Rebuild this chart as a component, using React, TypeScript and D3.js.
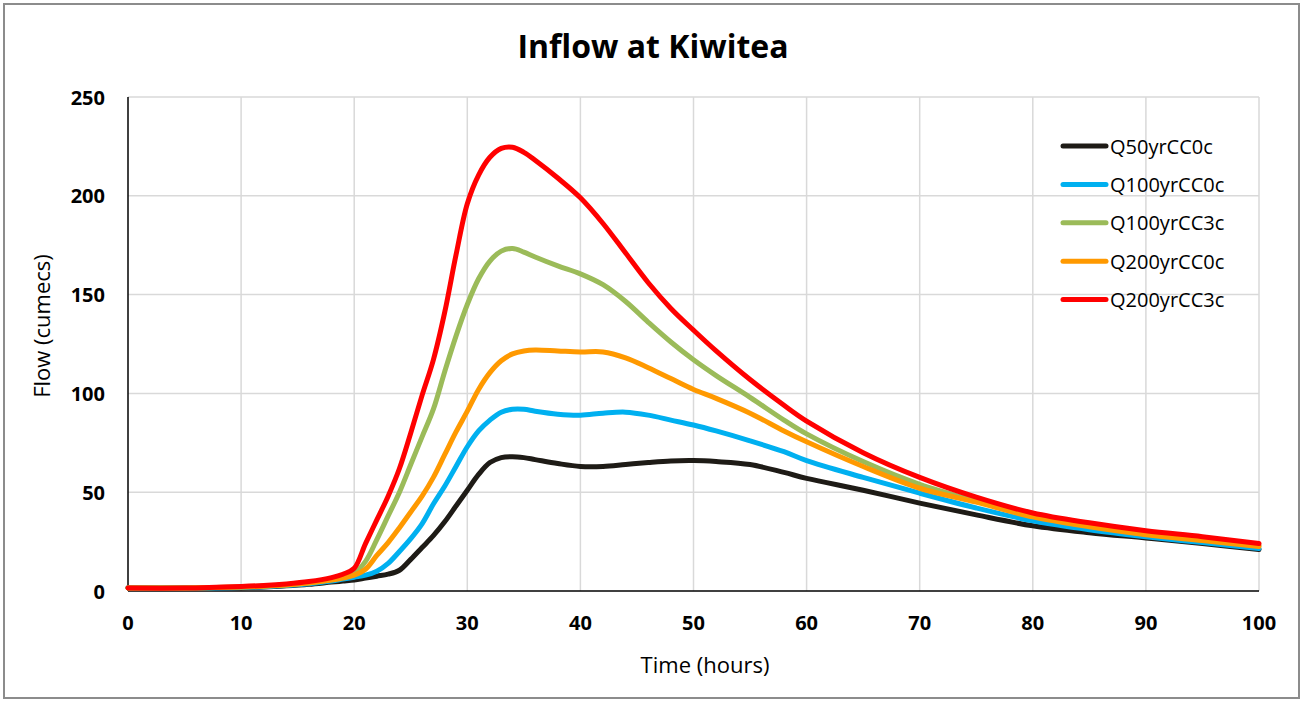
import React from "react";
import * as d3 from "d3";

// Hydrograph time points (hours)
const hours = [0, 5, 10, 12, 14, 16, 18, 19, 20, 21, 22, 23, 24, 25, 26, 27, 28, 29, 30, 31, 32, 33, 34, 35, 36, 38, 40, 42, 44, 46, 48, 50, 52, 55, 58, 60, 65, 70, 75, 80, 85, 90, 95, 100];

// Flow (cumecs) for each scenario at the times above
const q50yrCC0c = [1.5, 1.5, 1.7, 2, 2.6, 3.4, 4.5, 5, 5.5, 6.5, 7.5, 8.5, 10.5, 16, 22, 28, 35, 43, 51, 59, 65, 67.5, 68, 67.5, 66.5, 64.5, 63, 63, 64, 65, 65.8, 66, 65.5, 64, 60, 57, 51, 44.5, 38.5, 33, 29.5, 26.8, 24, 21];
const q100yrCC0c = [1.5, 1.5, 1.8, 2.2, 2.8, 3.7, 5, 6, 7, 8, 10, 14, 20, 26.5, 34, 44, 53, 63, 73, 81, 86.5, 90.5, 92, 92, 91, 89.5, 89, 90, 90.5, 89, 86.5, 84, 81, 76, 70.5, 66, 57.5, 49.5, 42, 35.5, 31, 27.5, 24.5, 21.5];
const q100yrCC3c = [1.5, 1.5, 2, 2.5, 3.2, 4.2, 5.8, 7, 9, 15, 26, 38, 50, 64, 78, 92, 111, 129, 145, 158, 167, 172, 173.3, 171.5, 169, 164.5, 160.5, 155, 146.5, 136, 126, 117, 109, 98, 86.5, 79.5, 65.5, 54, 45.5, 38, 33, 29.5, 26.5, 23];
const q200yrCC0c = [1.5, 1.5, 2, 2.4, 3, 4, 5.5, 6.5, 8, 11, 18, 24.5, 32, 40, 48, 57.5, 69, 80.5, 91, 102, 110.5, 116.5, 120, 121.5, 122, 121.5, 121, 121, 118, 113, 107.5, 102, 97.5, 90, 81, 75.5, 63, 52, 45, 37.5, 32.5, 28.5, 25.5, 22.5];
const q200yrCC3c = [1.5, 1.5, 2.3, 2.8, 3.6, 4.8, 6.8, 8.5, 11.5, 24, 36, 48, 62, 80, 99, 117, 141, 170, 196, 210.5, 219.5, 224, 224.6, 222, 218, 209, 199, 186, 171, 156, 143, 132, 121.5, 107, 94, 86, 70, 57.5, 47.5, 39.5, 34.5, 30.5, 27.5, 24];

const seriesNames = ["Q50yrCC0c", "Q100yrCC0c", "Q100yrCC3c", "Q200yrCC0c", "Q200yrCC3c"];
const seriesValues = [q50yrCC0c, q100yrCC0c, q100yrCC3c, q200yrCC0c, q200yrCC3c];
const seriesColors = ["#1e1b16", "#00b0f0", "#9bbb59", "#ff9900", "#ff0000"];

const xTicks = [0, 10, 20, 30, 40, 50, 60, 70, 80, 90, 100];
const yTicks = [0, 50, 100, 150, 200, 250];

const W = 1303;
const H = 702;
const FONT = "'Open Sans', 'DejaVu Sans', sans-serif";

export default function App() {
  const x = d3.scaleLinear().domain([0, 100]).range([128, 1259]);
  const y = d3.scaleLinear().domain([0, 250]).range([591, 97]);

  const line = d3
    .line<[number, number]>()
    .x((d) => x(d[0]))
    .y((d) => y(d[1]))
    .curve(d3.curveCatmullRom.alpha(0.5));

  const legendX = 1063;
  const legendY0 = 146;
  const legendStep = 38.4;

  return (
    <svg
      width={W}
      height={H}
      style={{ position: "absolute", left: 0, top: 0, background: "#fff" }}
      fontFamily={FONT}
    >
      <rect x={0} y={0} width={W} height={H} fill="#fff" />
      <rect x={4} y={4} width={1295} height={694} fill="none" stroke="#8c8c8c" strokeWidth={2} />

      <text x={653} y={58} textAnchor="middle" fontSize={32} fontWeight={700} fill="#000">
        Inflow at Kiwitea
      </text>

      {/* gridlines */}
      <g stroke="#d9d9d9" strokeWidth={1.5}>
        {yTicks.filter((t) => t > 0).map((t) => (
          <line key={"gy" + t} x1={x(0)} x2={x(100)} y1={y(t)} y2={y(t)} />
        ))}
        {xTicks.filter((t) => t > 0).map((t) => (
          <line key={"gx" + t} x1={x(t)} x2={x(t)} y1={y(0)} y2={y(250)} />
        ))}
      </g>

      {/* axes */}
      <line x1={x(0)} x2={x(0)} y1={y(0)} y2={y(250)} stroke="#000" strokeWidth={1.5} />
      <line x1={x(0)} x2={x(100)} y1={y(0)} y2={y(0)} stroke="#000" strokeWidth={1.5} />

      <g fontSize={20} fontWeight={700} fill="#000">
        {yTicks.map((t) => (
          <text key={"ty" + t} x={105} y={y(t)} textAnchor="end" dominantBaseline="central">
            {t}
          </text>
        ))}
        {xTicks.map((t) => (
          <text key={"tx" + t} x={x(t)} y={622} textAnchor="middle" dominantBaseline="central">
            {t}
          </text>
        ))}
      </g>

      <text x={705} y={664} textAnchor="middle" dominantBaseline="central" fontSize={22} fill="#000">
        Time (hours)
      </text>
      <text
        transform={`translate(41,326) rotate(-90)`}
        textAnchor="middle"
        dominantBaseline="central"
        fontSize={22}
        fill="#000"
      >
        Flow (cumecs)
      </text>

      {/* series */}
      <g fill="none" strokeWidth={5} strokeLinejoin="round" strokeLinecap="round">
        {seriesValues.map((vals, i) => (
          <path
            key={seriesNames[i]}
            d={line(hours.map((h, j) => [h, vals[j]] as [number, number])) || ""}
            stroke={seriesColors[i]}
          />
        ))}
      </g>

      {/* legend */}
      <g>
        {seriesNames.map((name, i) => {
          const ly = legendY0 + i * legendStep;
          return (
            <g key={"lg" + name}>
              <line x1={legendX} x2={legendX + 43} y1={ly} y2={ly} stroke={seriesColors[i]} strokeWidth={5} strokeLinecap="round" />
              <text x={legendX + 47} y={ly} dominantBaseline="central" fontSize={20} fill="#000">
                {name}
              </text>
            </g>
          );
        })}
      </g>
    </svg>
  );
}
